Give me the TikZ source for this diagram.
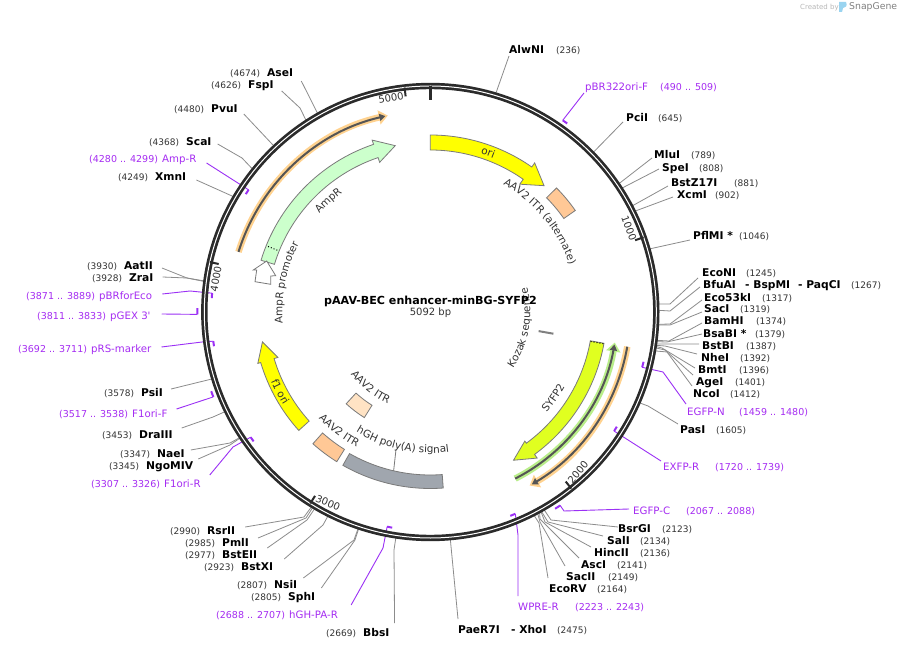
\documentclass[tikz,border=0pt]{standalone}
\usepackage{fontspec}
\setmainfont{DejaVu Sans}
\usetikzlibrary{arrows.meta,decorations.text}
\definecolor{mag}{HTML}{A52CF2}
\definecolor{magl}{HTML}{9B30F5}
\definecolor{ldrc}{HTML}{8C8C8C}
\definecolor{txt}{HTML}{333333}
\definecolor{ringc}{HTML}{2B2B2B}
\definecolor{edge}{HTML}{7A7A7A}
\definecolor{orhi}{HTML}{FFD28F}
\definecolor{grhi}{HTML}{B9EE8A}
\definecolor{core}{HTML}{555555}
\definecolor{fyel}{HTML}{FFFF00}
\definecolor{fora}{HTML}{FFC896}
\definecolor{fpal}{HTML}{FFE3C4}
\definecolor{fgre}{HTML}{CCFFCC}
\definecolor{fsyf}{HTML}{E0FF20}
\definecolor{fgry}{HTML}{A0A6AE}
\definecolor{logo}{HTML}{9AD4F0}
\newcommand\px[2]{(#1,649-#2)}
\newcommand\arcfont{\fontsize{10.4}{12}\selectfont\color{txt}}
\tikzset{
  lab/.style={anchor=base west,xshift=-2pt,inner sep=2pt,text height=8pt,text depth=2pt},
  sitename/.style={lab,font=\bfseries\fontsize{10.7}{12}\selectfont},
  sitepos/.style={lab,font=\fontsize{9}{11}\selectfont,text=txt},
  primname/.style={lab,font=\fontsize{10.2}{12}\selectfont,text=mag},
  primpos/.style={lab,font=\fontsize{9.5}{11}\selectfont,text=mag},
  ldr/.style={draw=ldrc,line width=0.8pt},
  pldr/.style={draw=magl,line width=0.9pt},
  pmark/.style={draw=magl,line width=2pt},
  feat/.style={draw=edge,line width=0.8pt,line join=miter},
  ticklab/.style={font=\fontsize{10}{12}\selectfont,text=txt,inner sep=0pt},
}
% label pair
\newcommand\site[6]{\node[sitename] (#1) at \px{#2}{#3} {#4};\node[sitepos] (#1-p) at \px{#5}{#3} {#6};}
\newcommand\prim[6]{\node[primname] (#1) at \px{#2}{#3} {#4};\node[primpos] (#1-p) at \px{#5}{#3} {#6};}
% leaders: id, anchor, dx, dy, [ex, ey,] bp
\newcommand\cutA[5]{\coordinate (#1-r) at ([shift={({90-#5*0.0707}:228)}]c);\draw[ldr] ([shift={(#3,#4)}]#1.#2) -- (#1-r);}
\newcommand\cutB[7]{\coordinate (#1-r) at ([shift={({90-#7*0.0707}:228)}]c);\draw[ldr] ([shift={(#3,#4)}]#1.#2) -- \px{#5}{#6} -- (#1-r);}
% primer mark: id, r, bp1, bp2
\newcommand\pmk[4]{\draw[pmark] ([shift={({90-#3*0.0707}:#2)}]c) arc[start angle={90-#3*0.0707},end angle={90-#4*0.0707},radius=#2];\coordinate (#1-m) at ([shift={({90-#3*0.0707}:#2)}]c);}
\newcommand\pA[4]{\draw[pldr] ([shift={(#3,#4)}]#1.#2) -- (#1-m);}
\newcommand\pB[6]{\draw[pldr] ([shift={(#3,#4)}]#1.#2) -- \px{#5}{#6} -- (#1-m);}
% arrow feature: style, ro, ri, a0, a1, wo, wi, atip, rtip
\newcommand\farrow[9]{\draw[feat,#1] ([shift={(#4:#2)}]c) arc[start angle=#4,end angle=#5,radius=#2] -- ([shift={(#5:#6)}]c) -- ([shift={(#8:#9)}]c) -- ([shift={(#5:#7)}]c) -- ([shift={(#5:#3)}]c) arc[start angle=#5,end angle=#4,radius=#3] -- cycle;}
% box feature: style, ro, ri, a0, a1
\newcommand\fseg[5]{\draw[feat,#1] ([shift={(#4:#2)}]c) arc[start angle=#4,end angle=#5,radius=#2] -- ([shift={(#5:#3)}]c) arc[start angle=#5,end angle=#4,radius=#3] -- cycle;}
% thin primer arrow: highlight, r, a0, a1, a1 of highlight
\newcommand\parrow[5]{\draw[#1,line width=6.5pt,-{Triangle[length=9pt,width=14pt]}] ([shift={(#3:#2)}]c) arc[start angle=#3,end angle=#5,radius=#2];
 \draw[core,line width=2pt,-{Triangle[length=6pt,width=7pt]}] ([shift={(#3:#2)}]c) arc[start angle=#3,end angle=#4,radius=#2];}
% text on arc: text, r, a0, a1
\newcommand\arctxt[4]{\path[decorate,decoration={text along path,text align=center,text={|\arcfont|#1}}] ([shift={(#3:#2)}]c) arc[start angle=#3,end angle=#4,radius=#2];}
\newcommand\ringtick[1]{\draw[ringc,line width=2pt] ([shift={({90-#1*0.0707}:226)}]c) -- ([shift={({90-#1*0.0707}:217)}]c);}
\begin{document}
\begin{tikzpicture}[x=1pt,y=1pt]
\useasboundingbox (0,0) rectangle (897,649);
\fill[white] (0,0) rectangle (897,649);
\coordinate (c) at (430.3,337);

% creator mark
\node[anchor=base west,inner sep=0pt,font=\fontsize{7}{8}\selectfont,text=black!28] (made) at \px{800}{10} {Created by};
\fill[logo] \px{839}{2} -- \px{846}{2} .. controls \px{848}{6} and \px{845}{8} .. \px{843}{8} -- \px{842}{12} -- \px{839}{12} -- cycle;
\node[anchor=base west,inner sep=0pt,font=\fontsize{9.3}{10}\selectfont,text=black!50] (sg) at \px{849}{10} {SnapGene};

% enzyme labels
\site{alw}{509}{54}{AlwNI}{556}{(236)}
\site{pci}{626}{122}{PciI}{658}{(645)}
\site{mlu}{654}{159}{MluI}{691}{(789)}
\site{spe}{662}{172}{SpeI}{699}{(808)}
\site{bz}{671}{187}{BstZ17I}{734}{(881)}
\site{xcm}{677}{199}{XcmI}{715}{(902)}
\site{pfl}{693}{240}{PflMI *}{739}{(1046)}
\site{econi}{702}{277}{EcoNI}{746}{(1245)}
\site{bfu}{703}{289}{BfuAI}{851}{(1267)}
\node[sitename] (bsp) at \px{745}{289} {- BspMI};
\node[sitename] (paq) at \px{798}{289} {- PaqCI};
\site{e53}{704}{301}{Eco53kI}{762}{(1317)}
\site{sac}{704}{313}{SacI}{740}{(1319)}
\site{bam}{704}{325}{BamHI}{756}{(1374)}
\site{bsa}{703}{337}{BsaBI *}{755}{(1379)}
\site{bstb}{702}{349}{BstBI}{746}{(1387)}
\site{nhe}{701}{361}{NheI}{740}{(1392)}
\site{bmt}{698}{373}{BmtI}{739}{(1396)}
\site{age}{696}{385}{AgeI}{735}{(1401)}
\site{nco}{693}{397}{NcoI}{730}{(1412)}
\site{pas}{680}{433}{PasI}{716}{(1605)}
\site{bsr}{618}{532}{BsrGI}{662}{(2123)}
\site{sal}{607}{544}{SalI}{640}{(2134)}
\site{hin}{594}{556}{HincII}{640}{(2136)}
\site{asc}{581}{568}{AscI}{617}{(2141)}
\site{sacii}{566}{580}{SacII}{608}{(2149)}
\site{ecorv}{549}{592}{EcoRV}{597}{(2164)}
\site{pae}{458}{633}{PaeR7I}{557}{(2475)}
\node[sitename] (xho) at \px{511}{633} {- XhoI};
\site{bbs}{363}{636}{BbsI}{326}{(2669)}
\site{sph}{288}{600}{SphI}{251}{(2805)}
\site{nsi}{274}{588}{NsiI}{237}{(2807)}
\site{bstx}{241}{570}{BstXI}{204}{(2923)}
\site{bste}{222}{558}{BstEII}{185}{(2977)}
\site{pml}{222}{546}{PmlI}{185}{(2985)}
\site{rsr}{207}{534}{RsrII}{170}{(2990)}
\site{ngo}{146}{469}{NgoMIV}{109}{(3345)}
\site{nae}{157}{457}{NaeI}{120}{(3347)}
\site{dra}{139}{438}{DraIII}{102}{(3453)}
\site{psi}{141}{396}{PsiI}{104}{(3578)}
\site{zra}{129}{282}{ZraI}{92}{(3928)}
\site{aat}{124}{270}{AatII}{87}{(3930)}
\site{xmn}{155}{181}{XmnI}{118}{(4249)}
\site{sca}{186}{146}{ScaI}{149}{(4368)}
\site{pvu}{211}{113}{PvuI}{174}{(4480)}
\site{fsp}{248}{89}{FspI}{211}{(4626)}
\site{ase}{267}{77}{AseI}{230}{(4674)}

% primer labels
\prim{pbr}{585}{91}{pBR322ori-F}{660}{(490 .. 509)}
\prim{egfpn}{687}{415}{EGFP-N}{739}{(1459 .. 1480)}
\prim{exfp}{663}{470}{EXFP-R}{715}{(1720 .. 1739)}
\prim{egfpc}{633}{514}{EGFP-C}{686}{(2067 .. 2088)}
\prim{wpre}{518}{610}{WPRE-R}{575}{(2223 .. 2243)}
\prim{hgh}{289}{618}{hGH-PA-R}{216}{(2688 .. 2707)}
\prim{fr}{164}{487}{F1ori-R}{91}{(3307 .. 3326)}
\prim{ff}{132}{417}{F1ori-F}{59}{(3517 .. 3538)}
\prim{prs}{91}{352}{pRS-marker}{18}{(3692 .. 3711)}
\prim{pgex}{110}{319}{pGEX 3\textquotesingle}{37}{(3811 .. 3833)}
\prim{pbre}{99}{300}{pBRforEco}{26}{(3871 .. 3889)}
\prim{ampr}{162}{163}{Amp-R}{89}{(4280 .. 4299)}

% enzyme leaders
\cutA{alw}{west}{2}{-5}{236}
\cutA{pci}{west}{-1}{-3}{645}
\cutA{mlu}{west}{0}{-2}{789}
\cutA{spe}{west}{-1}{0}{808}
\cutA{bz}{west}{-1}{-2}{881}
\cutA{xcm}{west}{-2}{-1}{902}
\cutA{pfl}{west}{-1}{-3}{1046}
\cutB{econi}{west}{-2}{-4}{670}{304}{1245}
\cutB{bfu}{west}{-1}{-1}{670}{311}{1267}
\cutB{e53}{west}{0}{-2}{670}{324}{1317}
\cutB{sac}{west}{0}{-2}{670}{325}{1319}
\cutB{bam}{west}{0}{-1}{669}{341}{1374}
\cutB{bsa}{west}{1}{0}{667}{342}{1379}
\cutB{bstb}{west}{-1}{2}{667}{344}{1387}
\cutB{nhe}{west}{-2}{4}{665}{346}{1392}
\cutB{bmt}{west}{-1}{2}{662}{348}{1396}
\cutB{age}{west}{-1}{7}{665}{350}{1401}
\cutB{nco}{west}{1}{8}{667}{352}{1412}
\cutB{pas}{west}{0}{6}{648}{406}{1605}
\cutB{bsr}{west}{2}{2}{551}{520}{2123}
\cutB{sal}{west}{-2}{5}{548}{522}{2134}
\cutB{hin}{west}{-1}{6}{545}{522}{2136}
\cutB{asc}{west}{0}{7}{540}{519}{2141}
\cutB{sacii}{west}{1}{11}{540}{522}{2149}
\cutB{ecorv}{west}{1}{11}{539}{523}{2164}
\cutA{pae}{west}{2}{11}{2475}
\cutB{bbs}{east}{3}{10}{394}{550}{2669}
\cutB{sph}{east}{4}{9}{355}{540}{2805}
\cutB{nsi}{east}{4}{7}{354}{540}{2807}
\cutB{bstx}{east}{9}{8}{323}{525}{2923}
\cutB{bste}{east}{8}{7}{307}{520}{2977}
\cutB{pml}{east}{7}{5}{306}{518}{2985}
\cutB{rsr}{east}{8}{4}{304}{517}{2990}
\cutB{ngo}{east}{3}{7}{230}{445}{3345}
\cutB{nae}{east}{4}{4}{230}{443}{3347}
\cutB{dra}{east}{7}{7}{213}{417}{3453}
\cutA{psi}{east}{6}{4}{3578}
\cutB{zra}{east}{7}{2}{187}{278}{3928}
\cutB{aat}{east}{7}{-1}{187}{278}{3930}
\cutA{xmn}{east}{8}{-2}{4249}
\cutB{sca}{east}{4}{-1}{242}{158}{4368}
\cutA{pvu}{east}{4}{-4}{4480}
\cutB{fsp}{east}{6}{-5}{300}{108}{4626}
\cutA{ase}{east}{6}{-7}{4674}

% primer marks and leaders
\pmk{pbr}{233}{490}{509}
\pmk{egfpn}{219}{1480}{1459}
\pmk{exfp}{219}{1739}{1720}
\pmk{egfpc}{233}{2067}{2088}
\pmk{wpre}{219}{2223}{2243}
\pmk{hgh}{219}{2707}{2688}
\pmk{fr}{219}{3326}{3307}
\pmk{ff}{233}{3517}{3538}
\pmk{prs}{219}{3711}{3692}
\pmk{pgex}{233}{3811}{3833}
\pmk{pbre}{219}{3889}{3871}
\pmk{ampr}{219}{4299}{4280}
\pA{pbr}{west}{1}{-5}
\pB{egfpn}{west}{1}{8}{663}{372}
\pA{exfp}{west}{0}{6}
\pB{egfpc}{west}{-2}{2}{564}{511}
\pB{wpre}{west}{2}{11}{518}{535}
\pB{hgh}{east}{11}{10}{383}{548}
\pB{fr}{east}{7}{9}{233}{447}
\pA{ff}{east}{7}{5}
\pB{prs}{east}{8}{2}{202}{342}
\pA{pgex}{east}{9}{2}
\pB{pbre}{east}{8}{3}{190}{291}
\pA{ampr}{east}{8}{-3}

% plasmid ring
\draw[ringc,line width=6.4pt] (c) circle[radius=226];
\draw[white,line width=1pt] (c) circle[radius=226];
\draw[ringc,line width=3pt] ([shift={(90:226)}]c) -- ([shift={(90:212)}]c);
\ringtick{1000}\ringtick{2000}\ringtick{3000}\ringtick{4000}\ringtick{5000}
\node[ticklab,rotate=-70] (t1) at \px{629}{228} {1000};
\node[ticklab,rotate=50] (t2) at \px{578}{472} {2000};
\node[ticklab,rotate=-23] (t3) at \px{328}{503} {3000};
\node[ticklab,rotate=80] (t4) at \px{216}{279} {4000};
\node[ticklab,rotate=10] (t5) at \px{391}{98} {5000};

% features
\farrow{fill=fyel}{177}{162}{90}{55}{182}{156}{48}{170}
\fseg{fill=fora}{177}{163}{44.5}{35}
\farrow{fill=fgre}{177}{163}{163}{108.7}{181.5}{158}{101.9}{170}
\draw[black,line width=1pt,dotted] ([shift={(158:175)}]c) -- ([shift={(158:165)}]c);
\draw[feat,fill=white] \px{266.7}{261} -- \px{275.7}{275.7} -- \px{270.7}{276} -- \px{270.7}{284.3} -- \px{255}{281.7} -- \px{256.7}{270} -- \px{253.3}{270} -- cycle;
\farrow{fill=fyel}{177}{163}{222}{196.6}{180}{159}{190.1}{170.5}
\fseg{fill=fpal}{124.5}{110}{227.5}{238}
\fseg{fill=fora}{176.5}{162}{228.3}{238}
\fseg{fill=fgry}{176.5}{163}{240.3}{274.2}
\draw[edge,line width=0.8pt] ([shift={(256:142)}]c) -- ([shift={(257:163)}]c);
\farrow{fill=fsyf}{176.5}{162.6}{-10.2}{-53.8}{181}{160}{-60.7}{170}
\draw[black,line width=1pt,dotted] ([shift={(-10.4:176)}]c) -- ([shift={(-10.4:163)}]c);
\draw[gray,line width=2pt] ([shift={(-10:110)}]c) -- ([shift={(-10:125)}]c);

% primer arrows
\parrow{orhi}{201}{162.6}{102.9}{102.2}
\parrow{grhi}{187}{-63}{-10}{-9.4}
\parrow{orhi}{200}{-10}{-59.5}{-60.2}

% arc texts
\arctxt{ori}{166}{90}{50}
\arctxt{AAV2 ITR (alternate)}{147}{72}{7}
\arctxt{AmpR}{148}{155}{110}
\arctxt{AmpR promoter}{148}{196}{141}
\arctxt{f1 ori}{174}{190}{226}
\arctxt{AAV2 ITR}{101}{205}{258}
\arctxt{AAV2 ITR}{154}{215}{250}
\arctxt{hGH poly(A) signal}{141}{230}{286}
\arctxt{Kozak sequence}{100}{-40}{20}
\arctxt{SYFP2}{154}{-55}{-15}

% centre title
\node[inner sep=0pt,font=\bfseries\fontsize{11.1}{12}\selectfont] (title) at \px{430.5}{301} {pAAV-BEC enhancer-minBG-SYFP2};
\node[inner sep=0pt,font=\fontsize{10}{12}\selectfont,text=txt] (size) at \px{430.5}{313} {5092 bp};
\end{tikzpicture}
\end{document}
